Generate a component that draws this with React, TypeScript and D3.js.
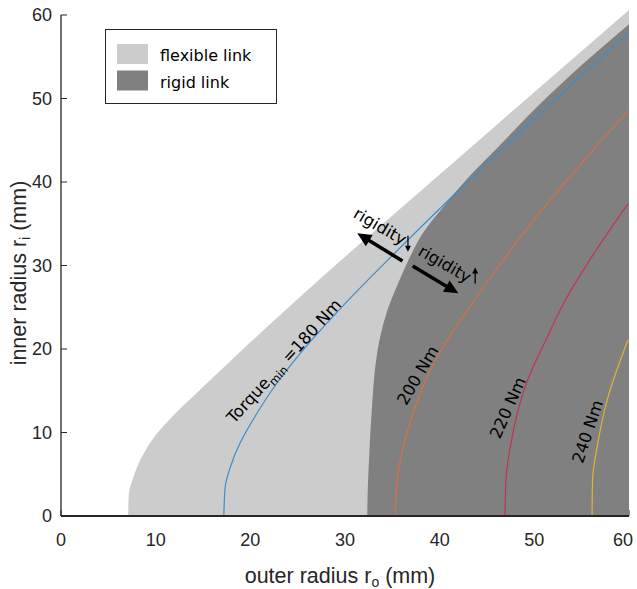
import React from "react";
import * as d3 from "d3";

// Axis ticks (mm)
const xTicks = [0, 10, 20, 30, 40, 50, 60];
const yTicks = [0, 10, 20, 30, 40, 50, 60];

// Upper-left edge of the feasible (flexible link) region: [outer radius, inner radius]
const flexibleEdge: [number, number][] = [
  [7.1, 0], [7.15, 2.5], [7.6, 4.5], [8.5, 7], [10, 9.7], [12, 12.2],
  [14.5, 14.9], [17.2, 17.8], [20, 20.8], [25, 26], [40, 40.9], [60, 60.6],
];

// Left edge of the rigid link region
const rigidEdge: [number, number][] = [
  [32.35, 0], [32.4, 3], [32.5, 5.9], [32.9, 13.9], [33.2, 17.9], [33.8, 21.9],
  [34.5, 24.7], [35.4, 27.3], [36.6, 30.4], [38.3, 34.0], [40.5, 37.2],
  [43, 40.5], [46.1, 44.1], [50.3, 49.0], [55, 54.0], [60, 58.9],
];

// Torque iso-lines [outer radius, inner radius]
const torque180: [number, number][] = [
  [17.2, 0], [17.35, 3.5], [17.9, 5.9], [18.9, 8.7], [20.7, 12.3], [22.8, 15.9],
  [25.3, 19.5], [28.5, 23.6], [31.5, 27.2], [35, 31.2], [40, 36.8], [45, 42.25],
  [50, 47.55], [55, 52.75], [59.9, 57.75],
];
const torque200: [number, number][] = [
  [35.3, 0], [35.5, 4.3], [36.2, 8.5], [37.3, 12.7], [39.75, 19.1], [43.7, 25.9],
  [46.5, 30.3], [49.7, 35.1], [54.8, 42.0], [59.9, 48.5],
];
const torque220: [number, number][] = [
  [46.9, 0], [47.0, 4.3], [47.5, 8.5], [48.2, 12.3], [49.3, 16.3], [51.1, 20.8],
  [53.3, 25.9], [56.5, 31.8], [59.9, 37.4],
];
const torque240: [number, number][] = [
  [56.1, 0], [56.15, 4.3], [56.7, 8.7], [57.7, 13.9], [59.9, 21.1],
];

const torqueLevels = [180, 200, 220, 240];
const torqueLines = [torque180, torque200, torque220, torque240];
const torqueColors = ["#3c8dcc", "#d8703f", "#c0334f", "#e3b22f"];
// label anchor (baseline middle, data units) and text angle
const torqueLabelPos: [number, number][] = [[24.0, 18.1], [38.2, 16.5], [47.75, 12.7], [56.2, 9.9]];
const torqueLabelAngle = [-47.6, -59.6, -66, -71.6];

const legendLabels = ["flexible link", "rigid link"];
const legendFills = ["#cccccc", "#808080"];

// "rigidity" annotations: arrow from -> to (data units)
const rigidityArrows: [[number, number], [number, number]][] = [
  [[36.07, 30.54], [31.3, 33.86]],
  [[37.15, 29.94], [41.97, 26.67]],
];
const rigidityLabelPos: [number, number][] = [[33.4, 34.1], [40.25, 29.6]];
const rigidityTrend = [-1, 1]; // small arrow: down / up
const rigidityTrendPos: [number, number][] = [[36.65, 32.6], [43.75, 28.8]];

const W = 637;
const H = 589;
const margin = { left: 61, right: 8, top: 15, bottom: 73 };

export default function App() {
  const x = d3.scaleLinear().domain([0, 60]).range([margin.left, W - margin.right]);
  const y = d3.scaleLinear().domain([0, 60]).range([H - margin.bottom, margin.top]);

  const edgeLine = d3
    .line<[number, number]>()
    .x((d) => x(d[0]))
    .y((d) => y(d[1]))
    .curve(d3.curveMonotoneY);

  const regionPath = (edge: [number, number][]) => {
    const top = edge[edge.length - 1];
    return (
      edgeLine(edge) +
      `L${x(60)},${y(top[1])}L${x(60)},${y(0)}L${x(edge[0][0])},${y(0)}Z`
    );
  };

  const axisColor = "#262626";
  const tickFont = "'Liberation Sans', Arial, sans-serif";
  const labelFont = "'DejaVu Sans', Verdana, sans-serif";

  const arrowHead = (x1: number, y1: number, x2: number, y2: number, len: number, half: number) => {
    const a = Math.atan2(y2 - y1, x2 - x1);
    const bx = x2 - len * Math.cos(a);
    const by = y2 - len * Math.sin(a);
    const px = -Math.sin(a) * half;
    const py = Math.cos(a) * half;
    return `M${x2},${y2}L${bx + px},${by + py}L${bx - px},${by - py}Z`;
  };

  return (
    <svg width={W} height={H} style={{ position: "absolute", left: 0, top: 0, background: "#fff" }}>
      {/* x ticks (inward) */}
      {xTicks.map((t) => (
        <line key={"xt" + t} x1={x(t)} x2={x(t)} y1={y(0)} y2={y(0) - 6} stroke={axisColor} strokeWidth={1} />
      ))}

      {/* regions */}
      <path d={regionPath(flexibleEdge)} fill={legendFills[0]} />
      <path d={regionPath(rigidEdge)} fill={legendFills[1]} />

      {/* torque iso-lines */}
      {torqueLines.map((pts, i) => (
        <path key={"tl" + i} d={edgeLine(pts) || ""} fill="none" stroke={torqueColors[i]} strokeWidth={1.2} />
      ))}

      {/* torque labels */}
      {torqueLevels.map((lv, i) => {
        const [px, py] = torqueLabelPos[i];
        return (
          <text
            key={"lab" + lv}
            transform={`translate(${x(px)},${y(py)}) rotate(${torqueLabelAngle[i]})`}
            textAnchor="middle"
            fontFamily={labelFont}
            fontSize={16.5}
            fill="#000"
          >
            {i === 0 ? (
              <>
                Torque
                <tspan fontSize={11.5} dy={4}>min</tspan>
                <tspan dy={-4}>{` =${lv} Nm`}</tspan>
              </>
            ) : (
              `${lv} Nm`
            )}
          </text>
        );
      })}

      {/* rigidity annotations */}
      {rigidityArrows.map(([a, b], i) => {
        const x1 = x(a[0]), y1 = y(a[1]), x2 = x(b[0]), y2 = y(b[1]);
        const ang = Math.atan2(y2 - y1, x2 - x1);
        const sx = x2 - 11 * Math.cos(ang);
        const sy = y2 - 11 * Math.sin(ang);
        return (
          <g key={"ra" + i}>
            <line x1={x1} y1={y1} x2={sx} y2={sy} stroke="#000" strokeWidth={3.5} />
            <path d={arrowHead(x1, y1, x2, y2, 14, 6.5)} fill="#000" />
          </g>
        );
      })}
      {rigidityLabelPos.map(([px, py], i) => (
        <text
          key={"rl" + i}
          transform={`translate(${x(px)},${y(py)}) rotate(30)`}
          textAnchor="middle"
          fontFamily={labelFont}
          fontSize={16.5}
          fill="#000"
        >
          rigidity
        </text>
      ))}
      {rigidityTrendPos.map(([px, py], i) => {
        const cx = x(px);
        const cy = y(py);
        const dir = rigidityTrend[i];
        const yStart = cy + dir * 8;
        const yEnd = cy - dir * 8;
        return (
          <g key={"rt" + i}>
            <line x1={cx} y1={yStart} x2={cx} y2={yEnd + dir * 3} stroke="#000" strokeWidth={1.3} />
            <path d={arrowHead(cx, yStart, cx, yEnd, 6, 3)} fill="#000" />
          </g>
        );
      })}

      {/* axes */}
      <line x1={x(0)} x2={x(0)} y1={y(0)} y2={y(60)} stroke={axisColor} strokeWidth={1.3} />
      <line x1={x(0)} x2={x(60)} y1={y(0)} y2={y(0)} stroke={axisColor} strokeWidth={2.2} />
      {yTicks.map((t) => (
        <g key={"yt" + t}>
          <line x1={x(0)} x2={x(0) + 6} y1={y(t)} y2={y(t)} stroke={axisColor} strokeWidth={1} />
          <text x={x(0) - 9} y={y(t)} dy="0.36em" textAnchor="end" fontFamily={tickFont} fontSize={18} fill={axisColor}>
            {t}
          </text>
        </g>
      ))}
      {xTicks.map((t) => (
        <text
          key={"xl" + t}
          x={Math.min(x(t), W - 14)}
          y={y(0) + 30}
          textAnchor="middle"
          fontFamily={tickFont}
          fontSize={18}
          fill={axisColor}
        >
          {t}
        </text>
      ))}
      <text x={340} y={583} textAnchor="middle" fontFamily={tickFont} fontSize={21.5} fill={axisColor}>
        outer radius r<tspan fontSize={14} dy={4}>o</tspan>
        <tspan dy={-4}> (mm)</tspan>
      </text>
      <text
        transform={`translate(26,273) rotate(-90)`}
        textAnchor="middle"
        fontFamily={tickFont}
        fontSize={21.5}
        fill={axisColor}
      >
        inner radius r<tspan fontSize={14} dy={4}>i</tspan>
        <tspan dy={-4}> (mm)</tspan>
      </text>

      {/* legend */}
      <rect x={105.5} y={29.5} width={171} height={74} fill="#fff" stroke={axisColor} strokeWidth={1} />
      {legendLabels.map((lab, i) => (
        <g key={"lg" + i}>
          <rect x={117} y={44 + i * 26.5} width={31} height={20} fill={legendFills[i]} />
          <text x={160} y={61 + i * 26.5} fontFamily={labelFont} fontSize={16} fill="#000">
            {lab}
          </text>
        </g>
      ))}
    </svg>
  );
}
